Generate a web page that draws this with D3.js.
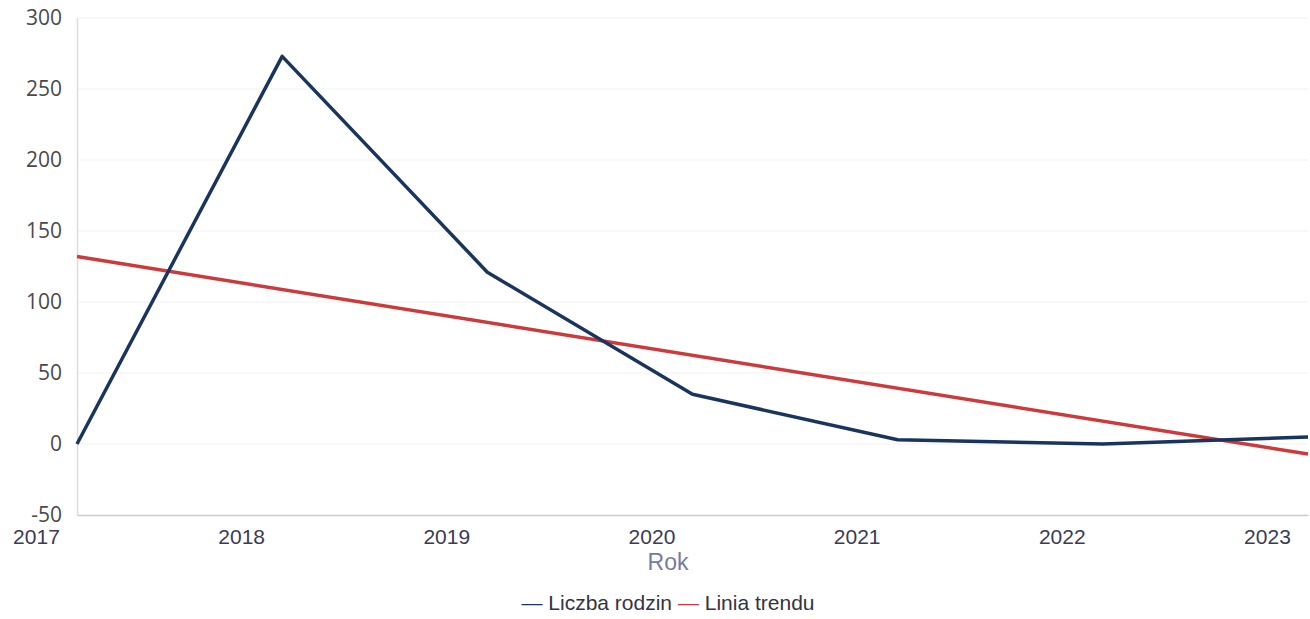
<!DOCTYPE html>
<html><head><meta charset="utf-8">
<script src="https://cdn.jsdelivr.net/npm/d3@7"></script>
<style>
html,body{margin:0;padding:0;background:#fff;}
svg{display:block;}
</style></head>
<body>
<svg id="chart" width="1310" height="619"></svg>
<script>
const years = [2017, 2018, 2019, 2020, 2021, 2022, 2023];
const familyCounts = [0, 273, 121, 35, 3, 0, 5];
const trendYears = [2017, 2023];
const trendValues = [132, -7.1];
const yTicks = [-50, 0, 50, 100, 150, 200, 250, 300];
const seriesNames = ["Liczba rodzin", "Linia trendu"];
const xTitle = "Rok";

const W = 1310, H = 619;
const m = {left: 77, right: 2, top: 18, bottom: 104};
const svg = d3.select("#chart");

const x = d3.scaleLinear().domain([2017, 2023]).range([m.left, W - m.right]);
const y = d3.scaleLinear().domain([-50, 300]).range([H - m.bottom, m.top]);

// gridlines
svg.append("g").selectAll("line").data(yTicks.filter(d => d > -50)).join("line")
  .attr("x1", m.left).attr("x2", W - m.right)
  .attr("y1", d => y(d)).attr("y2", d => y(d))
  .attr("stroke", "#f1f1f1").attr("stroke-width", 1);

// y axis labels
const yAxis = d3.axisLeft(y).tickValues(yTicks).tickSize(0).tickPadding(15).tickFormat(d => String(d));
const gy = svg.append("g").attr("transform", `translate(${m.left},0)`).call(yAxis);
gy.select(".domain").attr("stroke", "#dcdcdc").attr("stroke-width", 1.5);
gy.selectAll("text").attr("font-family", "'Open Sans', sans-serif").attr("font-size", 21).attr("fill", "#4a4a4a");

// x axis
const step = x(2018) - x(2017);
const xAxis = d3.axisBottom(x).tickValues(years).tickSize(0).tickPadding(14).tickFormat(d => String(d));
const gx = svg.append("g").attr("transform", `translate(0,${H - m.bottom})`).call(xAxis);
gx.select(".domain").attr("stroke", "#cccccc").attr("stroke-width", 1.5);
gx.selectAll("text").attr("font-family", "'Liberation Sans', Arial, sans-serif").attr("font-size", 21)
  .attr("fill", "#3b3b55").attr("dx", -0.2 * step);

svg.append("text").attr("x", 668).attr("y", 570).attr("text-anchor", "middle")
  .attr("font-family", "'Liberation Sans', Arial, sans-serif").attr("font-size", 23)
  .attr("fill", "#767ba3").text(xTitle);

// lines
const line = d3.line().x(d => x(d[0])).y(d => y(d[1]));
svg.append("path").datum(trendYears.map((t, i) => [t, trendValues[i]]))
  .attr("d", line).attr("fill", "none").attr("stroke", "#cc3a3c").attr("stroke-width", 3.5);
svg.append("path").datum(years.map((t, i) => [t, familyCounts[i]]))
  .attr("d", line).attr("fill", "none").attr("stroke", "#19355e").attr("stroke-width", 3.5)
  .attr("stroke-linejoin", "round");

// legend
const colors = ["#19355e", "#cc3a3c"];
const leg = svg.append("text").attr("x", 668).attr("y", 610).attr("text-anchor", "middle")
  .attr("font-family", "'Liberation Sans', Arial, sans-serif").attr("font-size", 21).attr("fill", "#333344");
seriesNames.forEach((n, i) => {
  leg.append("tspan").attr("fill", colors[i]).text((i ? " " : "") + "—");
  leg.append("tspan").text(" " + n);
});
</script>
</body></html>
